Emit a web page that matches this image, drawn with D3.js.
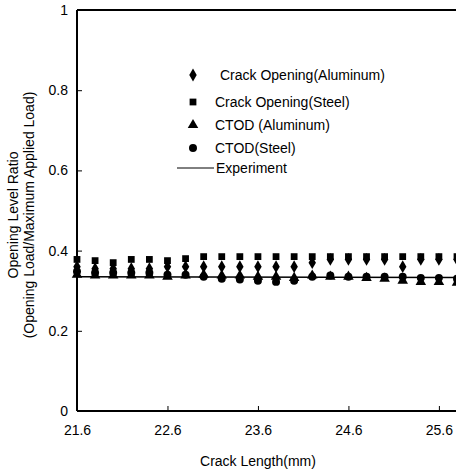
<!DOCTYPE html>
<html>
<head>
<meta charset="utf-8">
<script src="https://cdn.jsdelivr.net/npm/d3@7"></script>
<style>
  html, body { margin: 0; padding: 0; background: #fff; }
  svg { display: block; }
  text { font-family: "Liberation Sans", Arial, sans-serif; fill: #000; }
</style>
</head>
<body>
<svg id="chart" width="456" height="471"></svg>
<script>
// ---- data ----
const crackLength = [21.6, 21.8, 22.0, 22.2, 22.4, 22.6, 22.8, 23.0, 23.2, 23.4, 23.6,
                     23.8, 24.0, 24.2, 24.4, 24.6, 24.8, 25.0, 25.2, 25.4, 25.6, 25.8];
const crackOpeningAl    = [0.360, 0.355, 0.355, 0.355, 0.355, 0.360, 0.360, 0.360, 0.360, 0.360, 0.360,
                           0.360, 0.360, 0.370, 0.378, 0.378, 0.378, 0.378, 0.360, 0.378, 0.378, 0.378];
const crackOpeningSteel = [0.378, 0.375, 0.370, 0.378, 0.378, 0.375, 0.380, 0.385, 0.385, 0.385, 0.385,
                           0.385, 0.385, 0.385, 0.385, 0.385, 0.385, 0.385, 0.385, 0.385, 0.385, 0.385];
const ctodAl            = [0.340, 0.338, 0.338, 0.338, 0.338, 0.335, 0.338, 0.340, 0.338, 0.338, 0.335,
                           0.335, 0.332, 0.338, 0.335, 0.335, 0.332, 0.330, 0.325, 0.322, 0.322, 0.320];
const ctodSteel         = [0.348, 0.345, 0.345, 0.345, 0.345, 0.340, 0.340, 0.335, 0.330, 0.328, 0.325,
                           0.322, 0.325, 0.335, 0.338, 0.335, 0.335, 0.335, 0.335, 0.332, 0.332, 0.330];
const experimentX = [21.6, 25.8];
const experimentY = [0.335, 0.333];
const xTicks = [21.6, 22.6, 23.6, 24.6, 25.6];
const yTicks = [0, 0.2, 0.4, 0.6, 0.8, 1];
const yTickLabels = ["0", "0.2", "0.4", "0.6", "0.8", "1"];
const seriesNames = ["Crack Opening(Aluminum)", "Crack Opening(Steel)", "CTOD (Aluminum)", "CTOD(Steel)", "Experiment"];

// ---- chart ----
const svg = d3.select("#chart");
const x = d3.scaleLinear().domain([21.6, 25.8]).range([77, 457]);
const y = d3.scaleLinear().domain([0, 1]).range([411, 10]);

// top frame line
svg.append("line").attr("x1", x(21.6)).attr("x2", 460).attr("y1", y(1)).attr("y2", y(1))
  .attr("stroke", "#000").attr("stroke-width", 2);

// x axis (inward ticks)
const xAxis = d3.axisBottom(x).tickValues(xTicks).tickSize(-5).tickPadding(14)
  .tickFormat(d3.format(".1f"));
const gx = svg.append("g").attr("transform", `translate(0,${y(0)})`).call(xAxis);
gx.select(".domain").attr("d", `M${x(21.6)},0H460`).attr("stroke-width", 2);
gx.selectAll(".tick text").attr("font-size", 14).attr("font-family", "Liberation Sans, Arial, sans-serif")
  .attr("fill", "#000");

// y axis (inward ticks)
const yAxis = d3.axisLeft(y).tickValues(yTicks).tickSize(-5).tickPadding(9)
  .tickFormat((d, i) => yTickLabels[i]);
const gy = svg.append("g").attr("transform", `translate(${x(21.6)},0)`).call(yAxis);
gy.select(".domain").attr("d", `M0,${y(0)}V${y(1)}`).attr("stroke-width", 2);
gy.selectAll(".tick text").attr("font-size", 14).attr("font-family", "Liberation Sans, Arial, sans-serif")
  .attr("fill", "#000");

// axis titles
svg.append("text").attr("x", 258).attr("y", 466).attr("text-anchor", "middle")
  .attr("font-size", 14).text("Crack Length(mm)");
svg.append("text").attr("transform", "translate(18,215) rotate(-90)").attr("text-anchor", "middle")
  .attr("font-size", 14).text("Opening Level Ratio");
svg.append("text").attr("transform", "translate(34,215) rotate(-90)").attr("text-anchor", "middle")
  .attr("font-size", 14).text("(Opening Load/Maximum Applied Load)");

// experiment line
const line = d3.line().x(d => x(d[0])).y(d => y(d[1]));
svg.append("path").datum(experimentX.map((v, i) => [v, experimentY[i]]))
  .attr("d", line).attr("fill", "none").attr("stroke", "#000").attr("stroke-width", 1.5);

// markers
const symbols = [
  d3.symbol().type(d3.symbolDiamond).size(48),
  d3.symbol().type(d3.symbolSquare).size(46),
  d3.symbol().type(d3.symbolTriangle).size(48),
  d3.symbol().type(d3.symbolCircle).size(50)
];
const seriesValues = [crackOpeningAl, crackOpeningSteel, ctodAl, ctodSteel];
seriesValues.forEach((vals, si) => {
  svg.append("g").selectAll("path").data(vals).join("path")
    .attr("transform", (d, i) => `translate(${x(crackLength[i])},${y(d)})`)
    .attr("d", symbols[si]())
    .attr("fill", "#000");
});

// legend
const legendY = [75, 102, 125, 148];
const legend = svg.append("g");
seriesValues.forEach((v, si) => {
  legend.append("path").attr("transform", `translate(193,${legendY[si]})`)
    .attr("d", symbols[si]()).attr("fill", "#000");
  legend.append("text").attr("x", si === 0 ? 220 : 215).attr("y", legendY[si] + 5)
    .attr("font-size", 14).text(seriesNames[si]);
});
legend.append("line").attr("x1", 177).attr("x2", 214).attr("y1", 168).attr("y2", 168)
  .attr("stroke", "#000").attr("stroke-width", 1);
legend.append("text").attr("x", 216).attr("y", 173).attr("font-size", 14).text(seriesNames[4]);
</script>
</body>
</html>
